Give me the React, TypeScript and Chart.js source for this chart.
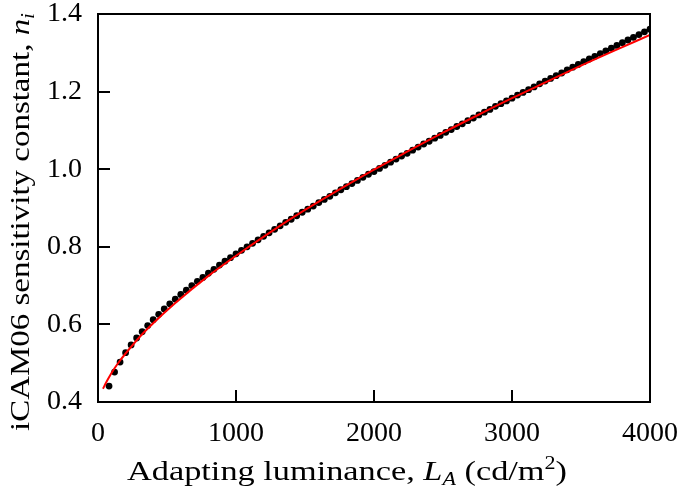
import React, { useEffect, useRef } from "react";
import { Chart, registerables } from "chart.js";

Chart.register(...registerables);

// Black dots: adapting luminance (cd/m^2) and sensitivity constant n_i
const dotL = [
  80, 120, 160, 200, 240, 280, 320, 360, 400, 440, 480, 520, 560, 600, 640, 680, 720, 760, 800, 840,
  880, 920, 960, 1000, 1040, 1080, 1120, 1160, 1200, 1240, 1280, 1320, 1360, 1400, 1440, 1480, 1520,
  1560, 1600, 1640, 1680, 1720, 1760, 1800, 1840, 1880, 1920, 1960, 2000, 2040, 2080, 2120, 2160, 2200,
  2240, 2280, 2320, 2360, 2400, 2440, 2480, 2520, 2560, 2600, 2640, 2680, 2720, 2760, 2800, 2840, 2880,
  2920, 2960, 3000, 3040, 3080, 3120, 3160, 3200, 3240, 3280, 3320, 3360, 3400, 3440, 3480, 3520, 3560,
  3600, 3640, 3680, 3720, 3760, 3800, 3840, 3880, 3920, 3960, 4000,
];
const dotN = [
  0.441, 0.477, 0.503, 0.527, 0.547, 0.565, 0.581, 0.597, 0.612, 0.626, 0.64, 0.653, 0.665, 0.677, 0.688,
  0.7, 0.711, 0.721, 0.732, 0.742, 0.753, 0.763, 0.772, 0.782, 0.791, 0.8, 0.809, 0.818, 0.827, 0.836,
  0.845, 0.854, 0.863, 0.871, 0.88, 0.889, 0.897, 0.905, 0.914, 0.922, 0.93, 0.939, 0.947, 0.955, 0.963,
  0.971, 0.979, 0.987, 0.994, 1.002, 1.01, 1.018, 1.026, 1.034, 1.041, 1.049, 1.057, 1.065, 1.072, 1.08,
  1.087, 1.095, 1.102, 1.11, 1.117, 1.125, 1.132, 1.14, 1.147, 1.154, 1.162, 1.169, 1.176, 1.183, 1.191,
  1.198, 1.205, 1.212, 1.22, 1.227, 1.234, 1.241, 1.248, 1.256, 1.263, 1.27, 1.277, 1.284, 1.291, 1.298,
  1.305, 1.312, 1.319, 1.326, 1.333, 1.34, 1.347, 1.354, 1.361,
];

// Red fitted curve
const fitL = [36, 60, 80, 120, 160, 200, 300, 400, 560, 800, 1000, 1250, 1500, 1750, 2000, 2250, 2500, 2750, 3000, 3250, 3500, 3750, 4000];
const fitN = [0.434, 0.451, 0.464, 0.487, 0.507, 0.525, 0.567, 0.603, 0.655, 0.725, 0.777, 0.838, 0.895, 0.948, 0.999, 1.047, 1.094, 1.139, 1.183, 1.225, 1.267, 1.307, 1.346];

const xTicks = [0, 1000, 2000, 3000, 4000];
const yTicks = [0.4, 0.6, 0.8, 1.0, 1.2, 1.4];

const FONT = '"Liberation Serif", "Times New Roman", serif';

type Part = { t: string; italic?: boolean; shift?: number; small?: boolean };

function partFont(p: Part, size: number) {
  const s = p.small ? Math.round(size * 0.65) : size;
  return `${p.italic ? "italic " : ""}${s}px ${FONT}`;
}

// Draws mixed-style text starting at (0,0) in current transform, stretched to targetWidth
function drawRich(ctx: CanvasRenderingContext2D, parts: Part[], size: number, targetWidth: number) {
  let total = 0;
  for (const p of parts) {
    ctx.font = partFont(p, size);
    total += ctx.measureText(p.t).width;
  }
  ctx.save();
  ctx.scale(targetWidth / total, 1);
  let cx = 0;
  for (const p of parts) {
    ctx.font = partFont(p, size);
    ctx.fillText(p.t, cx, p.shift || 0);
    cx += ctx.measureText(p.t).width;
  }
  ctx.restore();
}

const framePlugin = {
  id: "frameTicksTitles",
  afterDraw(chart: any) {
    const { ctx, chartArea } = chart;
    const { left, right, top, bottom } = chartArea;
    const xs = chart.scales.x;
    const ys = chart.scales.y;
    ctx.save();
    ctx.strokeStyle = "#000";
    ctx.lineWidth = 2;
    ctx.strokeRect(left, top, right - left, bottom - top);
    ctx.beginPath();
    for (const v of xTicks) {
      const px = Math.round(xs.getPixelForValue(v));
      ctx.moveTo(px, bottom);
      ctx.lineTo(px, bottom - 12);
    }
    for (const v of yTicks) {
      const py = Math.round(ys.getPixelForValue(v));
      ctx.moveTo(left, py);
      ctx.lineTo(left + 12, py);
    }
    ctx.stroke();

    ctx.fillStyle = "#000";
    ctx.textBaseline = "alphabetic";
    ctx.textAlign = "left";

    ctx.save();
    ctx.translate(127, 480);
    drawRich(
      ctx,
      [
        { t: "Adapting luminance, " },
        { t: "L", italic: true },
        { t: "A", italic: true, small: true, shift: 5 },
        { t: " (cd/m" },
        { t: "2", small: true, shift: -11 },
        { t: ")" },
      ],
      28,
      440
    );
    ctx.restore();

    ctx.save();
    ctx.translate(29, 431);
    ctx.rotate(-Math.PI / 2);
    drawRich(
      ctx,
      [
        { t: "iCAM06 sensitivity constant, " },
        { t: "n", italic: true },
        { t: "i", italic: true, small: true, shift: 5 },
      ],
      28,
      418
    );
    ctx.restore();
    ctx.restore();
  },
};

export default function App() {
  const ref = useRef<HTMLCanvasElement | null>(null);
  useEffect(() => {
    let chart: Chart | null = null;
    let cancelled = false;
    const build = () => {
      if (cancelled || !ref.current) return;
      chart = new Chart(ref.current, {
        type: "scatter",
        data: {
          datasets: [
            {
              label: "fit",
              data: fitL.map((x, i) => ({ x, y: fitN[i] })),
              showLine: true,
              borderColor: "#ff0000",
              backgroundColor: "#ff0000",
              borderWidth: 2,
              pointRadius: 0,
              cubicInterpolationMode: "monotone",
              order: 0,
            },
            {
              label: "iCAM06",
              data: dotL.map((x, i) => ({ x, y: dotN[i] })),
              showLine: false,
              pointRadius: 3.4,
              pointBackgroundColor: "#000",
              pointBorderColor: "#000",
              pointBorderWidth: 0,
              order: 1,
            },
          ],
        },
        options: {
          animation: false,
          responsive: false,
          devicePixelRatio: 1,
          layout: { padding: { top: 14, right: 35, left: 0, bottom: 0 } },
          plugins: { legend: { display: false }, tooltip: { enabled: false } },
          scales: {
            x: {
              type: "linear",
              min: 0,
              max: 4000,
              afterBuildTicks: (s: any) => {
                s.ticks = xTicks.map((v) => ({ value: v }));
              },
              ticks: {
                color: "#000",
                font: { family: FONT, size: 28 },
                padding: 15,
                maxRotation: 0,
                callback: (v: any) => String(v),
              },
              grid: { display: false, drawTicks: false },
              border: { display: false },
              afterFit: (s: any) => {
                s.height = 98;
                s.paddingLeft = 0;
                s.paddingRight = 0;
              },
            },
            y: {
              type: "linear",
              min: 0.4,
              max: 1.4,
              afterBuildTicks: (s: any) => {
                s.ticks = yTicks.map((v) => ({ value: v }));
              },
              ticks: {
                color: "#000",
                font: { family: FONT, size: 28 },
                padding: 16,
                callback: (v: any) => Number(v).toFixed(1),
              },
              grid: { display: false, drawTicks: false },
              border: { display: false },
              afterFit: (s: any) => {
                s.width = 98;
                s.paddingTop = 0;
                s.paddingBottom = 0;
              },
            },
          },
        } as any,
        plugins: [framePlugin],
      });
    };
    const fonts: any = (document as any).fonts;
    if (fonts && fonts.load) {
      Promise.all([
        fonts.load('28px "Liberation Serif"'),
        fonts.load('italic 28px "Liberation Serif"'),
      ])
        .catch(() => null)
        .then(build);
    } else {
      build();
    }
    return () => {
      cancelled = true;
      if (chart) chart.destroy();
    };
  }, []);
  return (
    <div style={{ position: "fixed", left: 0, top: 0, width: 685, height: 500, background: "#fff" }}>
      <canvas ref={ref} width={685} height={500} style={{ width: 685, height: 500 }} />
    </div>
  );
}
